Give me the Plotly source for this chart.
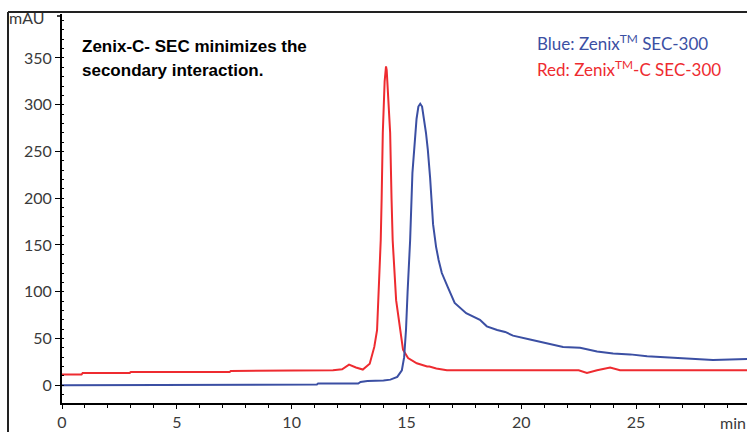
import plotly.graph_objects as go

# Blue: Zenix SEC-300
blue_t = [0, 7.95, 8.0, 11.1, 11.15, 12.9, 13.0, 13.3, 14.0, 14.3, 14.6, 14.8, 14.9, 14.98,
          15.05, 15.16, 15.26, 15.36, 15.44, 15.52, 15.6, 15.68, 15.76, 15.85, 15.93, 16.03,
          16.16, 16.29, 16.4, 16.54, 16.8, 17.1, 17.6, 18.2, 18.5, 18.95, 19.3, 19.64, 20.38,
          21.12, 21.82, 22.56, 23.3, 24.0, 24.74, 25.48, 26.18, 26.92, 28.35, 29.83]
blue_v = [0, 0, 0.8, 0.8, 1.8, 1.8, 3.5, 4.5, 5, 6, 9, 16, 30, 59,
          100, 155, 227, 262, 285, 298, 301, 298, 287, 270, 252, 222,
          172, 148, 134, 120, 105, 88, 77, 70, 63, 59, 57, 53, 49,
          45, 41, 40, 36, 34, 33, 31, 30, 29, 27, 28]

# Red: Zenix-C SEC-300
red_t = [0, 0.85, 0.9, 2.95, 3.0, 7.3, 7.35, 11.8, 12.2, 12.5, 12.8, 13.1, 13.4, 13.6, 13.72,
         13.8, 13.88, 13.92, 13.97, 14.05, 14.08, 14.11, 14.14, 14.17, 14.29, 14.35, 14.40,
         14.55, 14.72, 14.85, 15.07, 15.45, 15.9, 16.0, 16.3, 16.76, 22.5, 22.86, 23.3,
         23.87, 24.3, 29.83]
red_v = [11.5, 11.5, 13.2, 13.2, 14.2, 14.2, 15.3, 16, 17, 22, 19, 16.8, 23, 41, 59,
         100, 155, 200, 270, 325, 337, 341, 337, 325, 270, 200, 155,
         91, 59, 38, 29, 23.5, 20, 20, 18, 16, 16, 13.2, 16,
         18.9, 16, 16]

x_ticks = [0, 5, 10, 15, 20, 25]
y_ticks = [0, 50, 100, 150, 200, 250, 300, 350]

fig = go.Figure()
fig.add_trace(go.Scatter(x=red_t, y=red_v, mode="lines",
                         line=dict(color="#ee2b30", width=2), showlegend=False))
fig.add_trace(go.Scatter(x=blue_t, y=blue_v, mode="lines",
                         line=dict(color="#3b4fa3", width=2), showlegend=False))

W, H = 747, 432
L, T, R, B = 62, 14, 0, 29
pw, ph = W - L - R, H - T - B

def px(x):
    return (x - L) / pw

def py(y):
    return (H - B - y) / ph

tickfont = dict(family="Lato, Open Sans, sans-serif", size=16, color="#3a3a3a")

fig.update_layout(
    width=W, height=H,
    margin=dict(l=L, r=R, t=T, b=B, autoexpand=False),
    paper_bgcolor="white", plot_bgcolor="white",
    xaxis=dict(range=[0, 29.83], tickvals=x_ticks, ticks="outside", ticklen=4,
               tickcolor="black", showline=True, linecolor="black", linewidth=2,
               showgrid=False, zeroline=False, tickfont=tickfont, automargin=False,
               minor=dict(ticks="outside", dtick=1, ticklen=3, tickcolor="black")),
    yaxis=dict(range=[-19, 397], tickvals=y_ticks, ticks="outside", ticklen=5,
               tickcolor="black", showline=True, linecolor="black", linewidth=2,
               showgrid=False, zeroline=False, tickfont=tickfont, automargin=False,
               minor=dict(ticks="inside", dtick=10, ticklen=2, tickcolor="black")),
    shapes=[
        dict(type="line", xref="paper", yref="paper", x0=px(8), x1=px(760),
             y0=py(12), y1=py(12), line=dict(color="#222", width=2)),
        dict(type="line", xref="paper", yref="paper", x0=px(8), x1=px(8),
             y0=py(12), y1=py(445), line=dict(color="#222", width=2)),
        dict(type="line", xref="paper", yref="paper", x0=px(57), x1=px(62),
             y0=py(16), y1=py(16), line=dict(color="black", width=1.5)),
    ],
    annotations=[
        dict(text="Zenix-C- SEC minimizes the", xref="paper", yref="paper",
             x=px(80), y=py(46), xanchor="left", yanchor="middle", showarrow=False,
             font=dict(family="Liberation Sans, Arial, sans-serif", size=17, color="black",
                       weight="bold")),
        dict(text="secondary interaction.", xref="paper", yref="paper",
             x=px(80), y=py(70), xanchor="left", yanchor="middle", showarrow=False,
             font=dict(family="Liberation Sans, Arial, sans-serif", size=17, color="black",
                       weight="bold")),
        dict(text="Blue: Zenix<sup>TM</sup> SEC-300", xref="paper", yref="paper",
             x=px(535), y=py(43), xanchor="left", yanchor="middle", showarrow=False,
             font=dict(family="Lato, sans-serif", size=17, color="#3b4fa3")),
        dict(text="Red: Zenix<sup>TM</sup>-C SEC-300", xref="paper", yref="paper",
             x=px(535), y=py(68), xanchor="left", yanchor="middle", showarrow=False,
             font=dict(family="Lato, sans-serif", size=17, color="#ee2b30")),
        dict(text="mAU", xref="paper", yref="paper", x=px(47), y=py(18),
             xanchor="right", yanchor="middle", showarrow=False, font=tickfont),
        dict(text="min", xref="paper", yref="paper", x=px(733), y=py(422),
             xanchor="center", yanchor="middle", showarrow=False, font=tickfont),
    ],
)

fig.write_html("out.html",
               config={"displayModeBar": False},
               post_script="document.body.style.margin='0px';"
                           "document.body.style.overflow='hidden';")
